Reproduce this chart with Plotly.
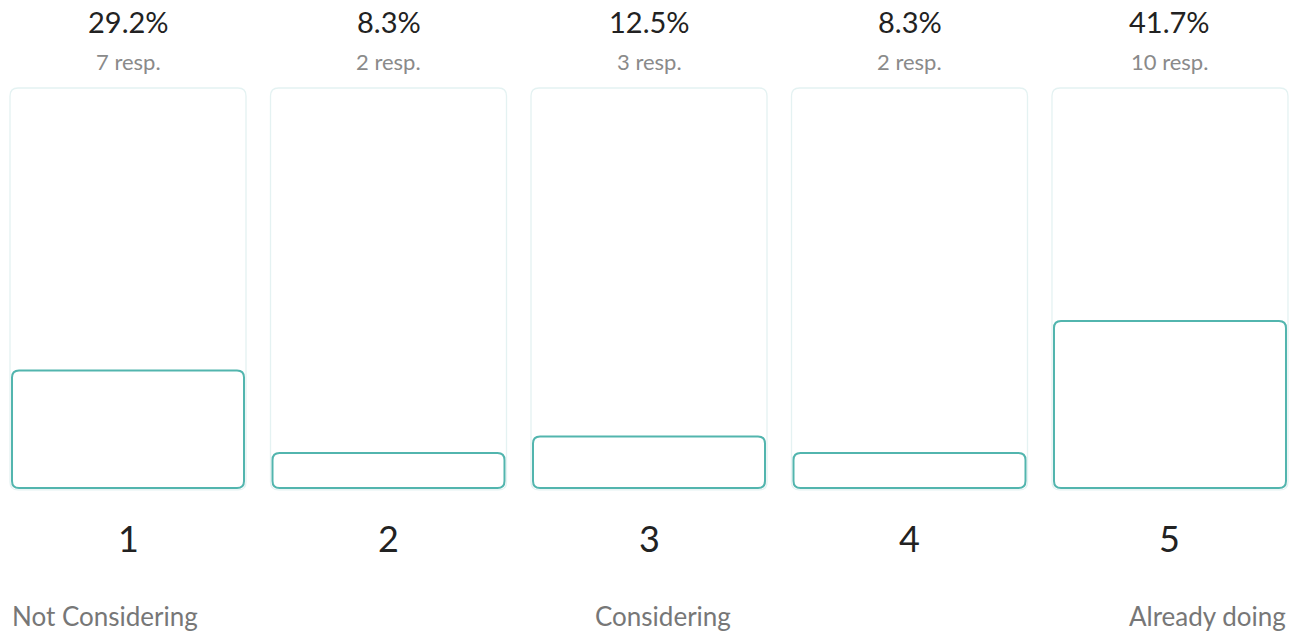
import plotly.graph_objects as go

# ---- data ----
categories = ["1", "2", "3", "4", "5"]
responses = [7, 2, 3, 2, 10]
scale_labels = ["Not Considering", "Considering", "Already doing"]

total = sum(responses)
percents = [r / total * 100 for r in responses]

W, H = 1303, 638
# axis ranges (layout)
x0, x1 = -0.4914, 4.5106
py0, pscale = 486.0, 3.96          # pixel of 0%, pixels per %
y_top = py0 / pscale
y_bot = -(H - py0) / pscale
px_x = W / (x1 - x0)
px_y = H / (y_top - y_bot)

TEAL = "#52b5ae"
LIGHT = "#e4f2f2"
FONT = "Lato, 'Source Sans Pro', 'Noto Sans', sans-serif"


def rounded_path(xc, half_px, ylo, yhi, r_px):
    hw = half_px / px_x
    rx = r_px / px_x
    ry = r_px / px_y
    ry = min(ry, (yhi - ylo) / 2)
    l, rr = xc - hw, xc + hw
    return (f"M {l+rx},{ylo} L {rr-rx},{ylo} Q {rr},{ylo} {rr},{ylo+ry} "
            f"L {rr},{yhi-ry} Q {rr},{yhi} {rr-rx},{yhi} "
            f"L {l+rx},{yhi} Q {l},{yhi} {l},{yhi-ry} "
            f"L {l},{ylo+ry} Q {l},{ylo} {l+rx},{ylo} Z")


fig = go.Figure()
# invisible trace so axes exist
fig.add_trace(go.Scatter(x=list(range(len(categories))), y=percents, mode="markers",
                         marker=dict(opacity=0), hoverinfo="skip", showlegend=False))

shapes = []
annotations = []
for i, (cat, r, p) in enumerate(zip(categories, responses, percents)):
    # background track (0..100 %)
    shapes.append(dict(type="path", xref="x", yref="y", layer="above",
                       path=rounded_path(i, 118, -1.0, 100.5, 8),
                       line=dict(color=LIGHT, width=1.3), fillcolor="rgba(0,0,0,0)"))
    # value bar
    shapes.append(dict(type="path", xref="x", yref="y", layer="above",
                       path=rounded_path(i, 116, -0.5, p, 7),
                       line=dict(color=TEAL, width=2), fillcolor="white"))
    annotations.append(dict(x=i, xref="x", y=1 - 21 / H, yref="paper", yanchor="middle",
                            text=f"{p:.1f}%", showarrow=False,
                            font=dict(family=FONT, size=29, color="#222222")))
    annotations.append(dict(x=i, xref="x", y=1 - 61 / H, yref="paper", yanchor="middle",
                            text=f"{r} resp.", showarrow=False,
                            font=dict(family=FONT, size=22, color="#8a8a8a")))
    annotations.append(dict(x=i, xref="x", y=1 - 538 / H, yref="paper", yanchor="middle",
                            text=cat, showarrow=False,
                            font=dict(family=FONT, size=36, color="#222222")))

label_pos = [(10 / W, "left"), (663 / W, "center"), (1288 / W, "right")]
for lab, (xp, anc) in zip(scale_labels, label_pos):
    annotations.append(dict(x=xp, xref="paper", y=1 - 616 / H, yref="paper",
                            xanchor=anc, yanchor="middle", text=lab, showarrow=False,
                            font=dict(family=FONT, size=26, color="#777777")))

fig.update_layout(
    width=W, height=H,
    margin=dict(l=0, r=0, t=0, b=0),
    paper_bgcolor="white", plot_bgcolor="white",
    xaxis=dict(range=[x0, x1], visible=False, fixedrange=True),
    yaxis=dict(range=[y_bot, y_top], visible=False, fixedrange=True),
    shapes=shapes, annotations=annotations, showlegend=False,
)

fig.write_html("out.html")
